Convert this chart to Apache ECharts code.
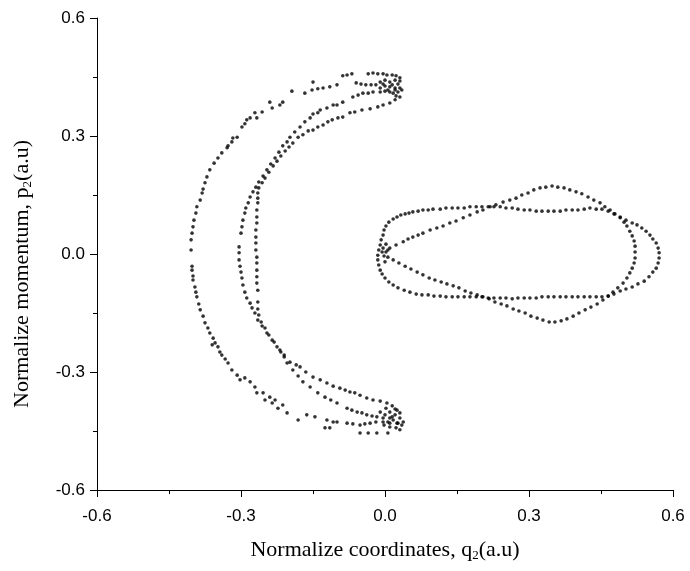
<!DOCTYPE html>
<html>
<head>
<meta charset="utf-8">
<script src="https://cdn.jsdelivr.net/npm/echarts@6/dist/echarts.min.js"></script>
<style>html,body{margin:0;padding:0;background:#fff}#c{width:690px;height:571px}</style>
</head>
<body>
<div id="c"></div>
<script>
var xTicks = [-0.6, -0.3, 0.0, 0.3, 0.6];
var yTicks = [-0.6, -0.3, 0.0, 0.3, 0.6];

var crescentOuter = [
[0.031,0.448],[0.023,0.453],[0.015,0.455],[0.004,0.455],[-0.004,0.458],[-0.015,0.458],[-0.025,0.460],[-0.035,0.458],
[-0.069,0.458],[-0.079,0.455],[-0.088,0.453],
[-0.019,0.430],[-0.029,0.430],[-0.040,0.430],[-0.050,0.432],[-0.060,0.435],[-0.100,0.430],[-0.115,0.425],[-0.129,0.422],
[-0.140,0.420],[-0.150,0.437],[-0.152,0.417],[-0.167,0.409],[-0.194,0.414],[-0.213,0.386],[-0.219,0.379],[-0.235,0.371],
[-0.240,0.386],[-0.256,0.361],[-0.267,0.346],[-0.271,0.359],[-0.281,0.346],[-0.288,0.341],[-0.292,0.331],[-0.298,0.323],
[-0.308,0.297],[-0.317,0.295],[-0.319,0.285],[-0.327,0.275],[-0.329,0.270],[-0.340,0.257],[-0.348,0.244],[-0.356,0.231],
[-0.365,0.214],[-0.371,0.196],[-0.375,0.181],[-0.379,0.165],[-0.381,0.155],[-0.385,0.137],[-0.392,0.120],[-0.394,0.104],
[-0.398,0.086],[-0.400,0.069],[-0.402,0.053],[-0.404,0.036],[-0.404,0.010],[-0.402,-0.031],[-0.402,-0.041],[-0.400,-0.056],
[-0.400,-0.066],[-0.396,-0.084],[-0.394,-0.097],[-0.392,-0.109],[-0.388,-0.127],[-0.385,-0.142],[-0.379,-0.158],[-0.375,-0.175],
[-0.369,-0.188],[-0.365,-0.201],[-0.358,-0.214],[-0.354,-0.226],[-0.360,-0.231],[-0.348,-0.236],[-0.344,-0.249],[-0.340,-0.257],
[-0.333,-0.267],[-0.327,-0.277],[-0.319,-0.295],[-0.308,-0.308],[-0.302,-0.320],[-0.292,-0.315],[-0.281,-0.325],[-0.271,-0.338],
[-0.267,-0.353],[-0.254,-0.353],[-0.240,-0.364],[-0.250,-0.371],[-0.229,-0.371],[-0.235,-0.379],[-0.223,-0.392],[-0.213,-0.384],
[-0.204,-0.404],[-0.181,-0.422],[-0.163,-0.409],[-0.146,-0.414],[-0.121,-0.422],[-0.108,-0.427],[-0.125,-0.442],[-0.115,-0.442],
[-0.100,-0.427],[-0.079,-0.430],[-0.067,-0.432],[-0.052,-0.435],[-0.042,-0.432],[-0.031,-0.430],[-0.019,-0.427],[-0.004,-0.427],
[0.010,-0.430],[0.025,-0.430],[-0.052,-0.455],[-0.035,-0.455],[-0.017,-0.455],[0.006,-0.455],[0.031,-0.447]
];

var crescentInnerB = [
[0.021,0.417],[0.010,0.412],[0.000,0.414],[-0.010,0.412],[-0.025,0.412],[-0.035,0.409],[-0.046,0.409],[-0.056,0.404],
[-0.067,0.399],[-0.088,0.386],[-0.100,0.379],[-0.108,0.379],[-0.121,0.371],[-0.135,0.366],[-0.140,0.359],[-0.150,0.356],
[-0.156,0.346],[-0.167,0.336],[-0.177,0.323],[-0.188,0.310],[-0.198,0.297],[-0.204,0.285],[-0.213,0.275],[-0.221,0.259],
[-0.229,0.244],[-0.238,0.229],[-0.246,0.214],[-0.254,0.198],[-0.263,0.183],[-0.269,0.170],[-0.275,0.158],[-0.281,0.145],
[-0.285,0.130],[-0.290,0.117],[-0.292,0.104],[-0.296,0.086],[-0.298,0.069],[-0.300,0.053],[-0.304,0.018],[-0.304,0.003],
[-0.304,-0.015],[-0.302,-0.031],[-0.300,-0.046],[-0.298,-0.061],[-0.296,-0.079],[-0.292,-0.097],[-0.288,-0.112],[-0.281,-0.125],
[-0.277,-0.137],[-0.271,-0.150],[-0.265,-0.168],[-0.256,-0.183],[-0.246,-0.201],[-0.235,-0.219],[-0.225,-0.236],[-0.217,-0.249],
[-0.210,-0.262],[-0.204,-0.277],[-0.192,-0.295],[-0.181,-0.310],[-0.171,-0.325],[-0.156,-0.338],[-0.140,-0.353],[-0.125,-0.364],
[-0.113,-0.371],[-0.100,-0.379],[-0.079,-0.392],[-0.069,-0.397],[-0.058,-0.402],[-0.048,-0.404],[-0.038,-0.409],[-0.027,-0.412],
[-0.017,-0.414],[-0.004,-0.417],[0.010,-0.417]
];

var crescentInnerC = [
[0.031,0.399],[0.021,0.392],[0.010,0.384],[-0.004,0.379],[-0.015,0.374],[-0.031,0.369],[-0.048,0.366],[-0.063,0.361],
[-0.073,0.359],[-0.088,0.348],[-0.098,0.346],[-0.110,0.341],[-0.119,0.336],[-0.129,0.328],[-0.140,0.323],[-0.150,0.315],
[-0.160,0.313],[-0.171,0.303],[-0.181,0.297],[-0.192,0.282],[-0.200,0.272],[-0.208,0.262],[-0.217,0.249],[-0.225,0.236],
[-0.233,0.224],[-0.242,0.208],[-0.250,0.193],[-0.256,0.181],[-0.263,0.168],[-0.265,0.155],[-0.265,0.142],[-0.265,0.130],
[-0.267,0.112],[-0.267,0.094],[-0.267,0.079],[-0.269,0.061],[-0.269,0.043],[-0.269,0.028],[-0.269,0.010],[-0.267,-0.008],
[-0.267,-0.023],[-0.267,-0.041],[-0.267,-0.058],[-0.267,-0.074],[-0.265,-0.092],[-0.265,-0.122],[-0.265,-0.140],[-0.263,-0.155],
[-0.258,-0.173],[-0.250,-0.188],[-0.242,-0.206],[-0.231,-0.224],[-0.219,-0.244],[-0.210,-0.257],[-0.198,-0.275],[-0.185,-0.282],
[-0.177,-0.287],[-0.165,-0.300],[-0.150,-0.313],[-0.135,-0.320],[-0.121,-0.328],[-0.108,-0.336],[-0.094,-0.341],[-0.083,-0.346],
[-0.073,-0.351],[-0.063,-0.353],[-0.052,-0.359],[-0.038,-0.366],[-0.025,-0.371],[-0.010,-0.374],[0.004,-0.379],[0.015,-0.386],
[0.025,-0.397],[0.031,-0.404]
];

var crescentTips = [
[-0.010,0.437],[0.000,0.442],[0.010,0.437],[0.021,0.442],[0.027,0.432],[0.031,0.422],[0.021,0.422],[0.010,0.425],
[0.000,0.427],[0.017,0.409],[0.027,0.412],[0.035,0.417],[0.006,0.417],[-0.010,0.422],[0.023,0.402],[0.031,0.440],
[-0.004,0.432],[0.015,0.430],
[-0.010,-0.402],[0.000,-0.409],[0.010,-0.402],[0.021,-0.409],[0.031,-0.417],[0.027,-0.430],[0.017,-0.422],[0.006,-0.427],
[-0.002,-0.435],[0.023,-0.442],[0.035,-0.435],[0.010,-0.440],[0.038,-0.427],[0.002,-0.392],[0.021,-0.394],[0.015,-0.414]
];

var loopOval = [
[-0.015,-0.003],[-0.013,0.010],[-0.010,0.023],[-0.008,0.036],[-0.004,0.048],[-0.002,0.061],[0.002,0.071],[0.008,0.081],
[0.017,0.089],[0.025,0.094],[0.033,0.099],[0.042,0.102],[0.050,0.104],[0.058,0.107],[0.069,0.109],[0.079,0.112],
[0.090,0.112],[0.100,0.114],[0.115,0.114],[0.127,0.117],[0.140,0.117],[0.152,0.117],[0.165,0.117],[0.177,0.120],
[0.190,0.120],[0.202,0.120],[0.215,0.120],[0.227,0.120],[0.240,0.120],[0.252,0.117],[0.265,0.117],[0.277,0.114],
[0.290,0.112],[0.302,0.112],[0.315,0.109],[0.327,0.109],[0.340,0.109],[0.352,0.109],[0.365,0.109],[0.377,0.112],
[0.390,0.112],[0.402,0.112],[0.415,0.114],[0.427,0.117],[0.440,0.114],[0.452,0.114],[0.465,0.109],[0.477,0.102],
[0.490,0.094],[0.502,0.086],[0.515,0.079],[0.525,0.074],[0.535,0.066],[0.544,0.058],[0.552,0.048],[0.558,0.038],
[0.565,0.028],[0.569,0.015],[0.571,0.003],[0.571,-0.010],[0.569,-0.023],[0.565,-0.036],[0.558,-0.046],[0.550,-0.058],
[0.540,-0.069],[0.527,-0.076],[0.515,-0.084],[0.502,-0.089],[0.490,-0.094],[0.477,-0.102],[0.465,-0.107],[0.452,-0.109],
[0.440,-0.109],[0.427,-0.109],[0.415,-0.109],[0.402,-0.109],[0.390,-0.109],[0.377,-0.109],[0.365,-0.109],[0.352,-0.109],
[0.340,-0.109],[0.327,-0.109],[0.315,-0.112],[0.302,-0.112],[0.290,-0.112],[0.277,-0.112],[0.265,-0.114],[0.252,-0.112],
[0.240,-0.112],[0.227,-0.112],[0.215,-0.112],[0.202,-0.109],[0.190,-0.109],[0.177,-0.109],[0.165,-0.109],[0.152,-0.109],
[0.140,-0.109],[0.127,-0.109],[0.115,-0.107],[0.102,-0.107],[0.090,-0.104],[0.077,-0.104],[0.065,-0.102],[0.052,-0.097],
[0.040,-0.092],[0.027,-0.086],[0.017,-0.079],[0.008,-0.071],[0.000,-0.061],[-0.006,-0.051],[-0.010,-0.041],[-0.013,-0.028],
[-0.015,-0.015]
];

var loopLemon = [
[0.002,0.005],[0.010,0.015],[0.023,0.023],[0.038,0.031],[0.048,0.038],[0.058,0.043],[0.069,0.048],[0.079,0.053],
[0.094,0.061],[0.108,0.066],[0.121,0.071],[0.135,0.079],[0.148,0.084],[0.163,0.092],[0.177,0.099],[0.192,0.107],
[0.204,0.112],[0.219,0.120],[0.231,0.125],[0.246,0.132],[0.260,0.137],[0.273,0.142],[0.285,0.150],[0.298,0.155],
[0.310,0.163],[0.323,0.168],[0.335,0.170],[0.348,0.173],[0.360,0.170],[0.373,0.168],[0.385,0.163],[0.398,0.158],
[0.410,0.153],[0.423,0.145],[0.435,0.137],[0.448,0.130],[0.458,0.120],[0.469,0.112],[0.479,0.102],[0.490,0.092],
[0.498,0.081],[0.504,0.071],[0.510,0.058],[0.515,0.046],[0.519,0.033],[0.521,0.020],[0.521,0.005],[0.521,-0.010],
[0.519,-0.023],[0.515,-0.036],[0.510,-0.048],[0.504,-0.061],[0.496,-0.074],[0.485,-0.086],[0.475,-0.097],[0.465,-0.107],
[0.454,-0.117],[0.442,-0.127],[0.429,-0.135],[0.417,-0.142],[0.404,-0.150],[0.392,-0.158],[0.379,-0.165],[0.367,-0.170],
[0.354,-0.173],[0.342,-0.173],[0.329,-0.168],[0.317,-0.163],[0.304,-0.158],[0.292,-0.150],[0.279,-0.145],[0.267,-0.140],
[0.254,-0.132],[0.242,-0.127],[0.229,-0.122],[0.217,-0.114],[0.204,-0.109],[0.192,-0.104],[0.179,-0.099],[0.167,-0.094],
[0.154,-0.086],[0.142,-0.081],[0.129,-0.076],[0.117,-0.071],[0.104,-0.066],[0.092,-0.061],[0.079,-0.053],[0.067,-0.046],
[0.054,-0.038],[0.042,-0.031],[0.029,-0.023],[0.017,-0.015],[0.006,-0.008]
];

var loopKnots = [
[-0.004,0.015],[-0.002,-0.005],[-0.006,0.005],[0.002,0.025],[0.000,-0.020],[0.006,0.010]
];

var chart = echarts.init(document.getElementById('c'), null, {renderer: 'canvas'});
function dots(name, data) {
  return {
    name: name, type: 'scatter', data: data, symbol: 'circle', symbolSize: 3.6,
    itemStyle: {color: '#000'}, silent: true, animation: false
  };
}
var axisFont = {fontFamily: 'Liberation Sans', fontSize: 17, color: '#000'};
function nameFont(pad) {
  return {
    fontFamily: 'Liberation Serif', fontSize: 22, color: '#000', padding: pad,
    rich: {sub: {fontFamily: 'Liberation Serif', fontSize: 13, color: '#000', verticalAlign: 'bottom', padding: [10, 0, 0, 0]}}
  };
}
chart.setOption({
  backgroundColor: '#fff',
  animation: false,
  grid: {left: 97, right: 17, top: 18, bottom: 81, containLabel: false},
  xAxis: {
    type: 'value', min: xTicks[0], max: xTicks[xTicks.length - 1], interval: 0.3,
    name: 'Normalize coordinates, q{sub|2}(a.u)', nameLocation: 'middle', nameGap: 49,
    nameTextStyle: nameFont([0, 0, 0, 0]),
    axisLine: {onZero: false, lineStyle: {color: '#000', width: 1}},
    axisTick: {show: true, inside: false, length: 7, lineStyle: {color: '#000'}},
    minorTick: {show: true, splitNumber: 2, length: 4, lineStyle: {color: '#000'}},
    splitLine: {show: false},
    axisLabel: Object.assign({margin: 18, formatter: function (v) { return v.toFixed(1); }}, axisFont)
  },
  yAxis: {
    type: 'value', min: yTicks[0], max: yTicks[yTicks.length - 1], interval: 0.3,
    name: 'Normalize momentum, p{sub|2}(a.u)', nameLocation: 'middle', nameGap: 63,
    nameTextStyle: nameFont([0, 40, 0, 0]),
    axisLine: {onZero: false, lineStyle: {color: '#000', width: 1}},
    axisTick: {show: true, inside: false, length: 7, lineStyle: {color: '#000'}},
    minorTick: {show: true, splitNumber: 2, length: 4, lineStyle: {color: '#000'}},
    splitLine: {show: false},
    axisLabel: Object.assign({margin: 12, formatter: function (v) { return v.toFixed(1); }}, axisFont)
  },
  series: [
    dots('crescentOuter', crescentOuter),
    dots('crescentInnerB', crescentInnerB),
    dots('crescentInnerC', crescentInnerC),
    dots('crescentTips', crescentTips),
    dots('loopOval', loopOval),
    dots('loopLemon', loopLemon),
    dots('loopKnots', loopKnots)
  ]
});
</script>
</body>
</html>
